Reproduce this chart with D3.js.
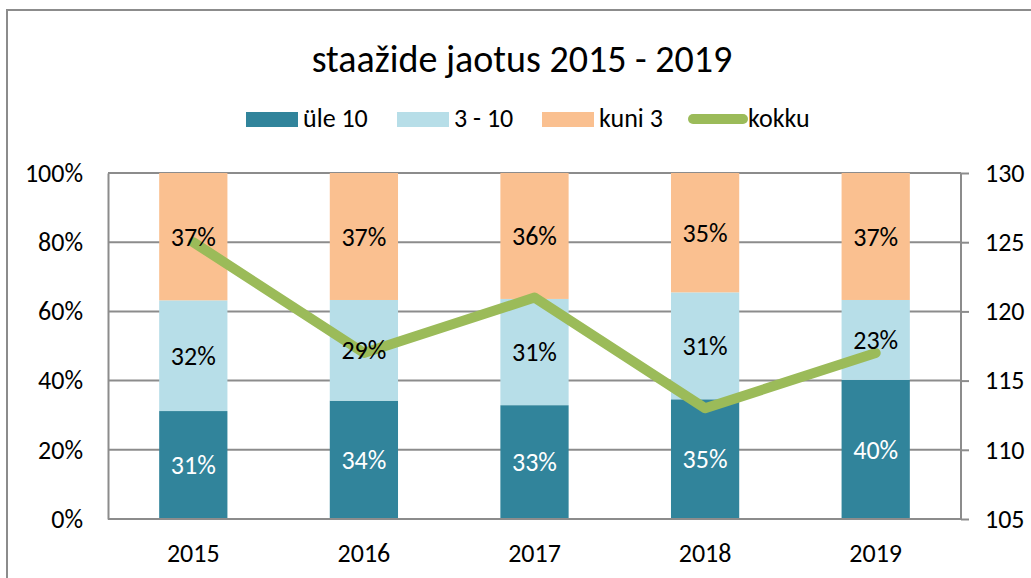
<!DOCTYPE html>
<html>
<head>
<meta charset="utf-8">
<script src="https://cdn.jsdelivr.net/npm/d3@7"></script>
<style>
  body { margin: 0; background: #fff; }
  svg text { font-family: Carlito, "Liberation Sans Narrow", Roboto, sans-serif; }
</style>
</head>
<body>
<div class="chart"></div>
<script>
const years = ['2015', '2016', '2017', '2018', '2019'];
const seriesNames = ['üle 10', '3 - 10', 'kuni 3', 'kokku'];
// shares in percent (labels show rounded values)
const yle10 = [31.2, 34.2, 32.9, 34.6, 40.2];
const kolm10 = [32.0, 29.1, 30.7, 30.9, 23.1];
const kuni3 = [36.8, 36.7, 36.4, 34.5, 36.7];
const kokku = [125, 117, 121, 113, 117];
const leftTicks = [0, 20, 40, 60, 80, 100];
const rightTicks = [105, 110, 115, 120, 125, 130];

const colors = ['#31849b', '#b7dee8', '#fac090'];
const lineColor = '#9bbb59';
const gridColor = '#8c8c8c';
const fontSize = '26px';

const width = 1031;
const height = 578;
const margin = { top: 173, right: 70, bottom: 59, left: 108 };
const graphWidth = width - margin.left - margin.right;
const graphHeight = height - margin.top - margin.bottom;

const svg = d3
  .select('.chart')
  .append('svg')
  .attr('width', width)
  .attr('height', height);

// outer chart frame, runs off the right and bottom edges
svg
  .append('rect')
  .attr('x', 7)
  .attr('y', 10)
  .attr('width', 1040)
  .attr('height', 600)
  .attr('fill', 'none')
  .attr('stroke', '#8c8c8c')
  .attr('stroke-width', 2);

svg
  .append('text')
  .attr('x', 522)
  .attr('y', 72)
  .attr('text-anchor', 'middle')
  .style('font-size', '38px')
  .style('fill', '#000')
  .text('staažide jaotus 2015 - 2019');

const graph = svg
  .append('g')
  .attr('transform', `translate(${margin.left}, ${margin.top})`);

const xScale = d3.scaleBand().domain(years).range([0, graphWidth]).paddingInner(0.6).paddingOuter(0.3);
const yScale = d3.scaleLinear().domain([0, 100]).range([graphHeight, 0]);
const y2Scale = d3.scaleLinear().domain([105, 130]).range([graphHeight, 0]);

// gridlines
graph
  .append('g')
  .selectAll('line')
  .data(leftTicks)
  .enter()
  .append('line')
  .attr('x1', 0)
  .attr('x2', graphWidth)
  .attr('y1', (d) => yScale(d))
  .attr('y2', (d) => yScale(d))
  .attr('stroke', gridColor)
  .attr('stroke-width', 2);

const rows = years.map((y, i) => ({ year: y, a: yle10[i], b: kolm10[i], c: kuni3[i] }));
const stacked = d3.stack().keys(['a', 'b', 'c'])(rows);

stacked.forEach((layer, li) => {
  graph
    .append('g')
    .selectAll('rect')
    .data(layer)
    .enter()
    .append('rect')
    .attr('x', (d) => xScale(d.data.year))
    .attr('width', xScale.bandwidth())
    .attr('y', (d) => yScale(d[1]))
    .attr('height', (d) => yScale(d[0]) - yScale(d[1]))
    .attr('fill', colors[li]);
});

const leftAxis = d3.axisLeft(yScale).tickValues(leftTicks).tickSize(0).tickPadding(25).tickFormat((d) => `${d}%`);
const rightAxis = d3.axisRight(y2Scale).tickValues(rightTicks).tickSize(8).tickPadding(16);
const bottomAxis = d3.axisBottom(xScale).tickSize(0).tickPadding(25);

const styleAxis = (g) => {
  g.select('.domain').attr('stroke', gridColor).attr('stroke-width', 2);
  g.selectAll('.tick line').attr('stroke', gridColor).attr('stroke-width', 2);
  g.selectAll('.tick text')
    .style('font-size', fontSize)
    .style('fill', '#000')
    .style('font-family', 'Carlito, "Liberation Sans Narrow", Roboto, sans-serif');
};

graph.append('g').call(leftAxis).call(styleAxis);
graph.append('g').attr('transform', `translate(${graphWidth}, 0)`).call(rightAxis).call(styleAxis)
  .select('.domain').attr('d', `M0,0V${graphHeight}`);
graph.append('g').attr('transform', `translate(0, ${graphHeight})`).call(bottomAxis).call(styleAxis)
  .select('.domain').attr('d', `M0,0H${graphWidth}`);

// total line on the right axis
const line = d3
  .line()
  .x((d, i) => xScale(years[i]) + xScale.bandwidth() / 2)
  .y((d) => y2Scale(d));

graph
  .append('path')
  .datum(kokku)
  .attr('d', line)
  .attr('fill', 'none')
  .attr('stroke', lineColor)
  .attr('stroke-width', 10)
  .attr('stroke-linejoin', 'round')
  .attr('stroke-linecap', 'round');

// data labels
stacked.forEach((layer, li) => {
  graph
    .append('g')
    .selectAll('text')
    .data(layer)
    .enter()
    .append('text')
    .attr('x', (d) => xScale(d.data.year) + xScale.bandwidth() / 2)
    .attr('y', (d) => (yScale(d[0]) + yScale(d[1])) / 2)
    .attr('dy', '0.35em')
    .attr('text-anchor', 'middle')
    .style('font-size', fontSize)
    .style('fill', li === 0 ? '#fff' : '#000')
    .text((d) => `${Math.round(d[1] - d[0])}%`);
});

// legend
const legendItems = [
  { name: seriesNames[0], x: 246, color: colors[0], type: 'rect' },
  { name: seriesNames[1], x: 397, color: colors[1], type: 'rect' },
  { name: seriesNames[2], x: 542, color: colors[2], type: 'rect' },
  { name: seriesNames[3], x: 688, color: lineColor, type: 'line' },
];
const legend = svg.append('g');
legendItems.forEach((it) => {
  if (it.type === 'rect') {
    legend.append('rect').attr('x', it.x).attr('y', 112).attr('width', 52).attr('height', 15).attr('fill', it.color);
  } else {
    legend.append('line').attr('x1', it.x + 5).attr('x2', it.x + 55).attr('y1', 119).attr('y2', 119)
      .attr('stroke', it.color).attr('stroke-width', 10).attr('stroke-linecap', 'round');
  }
  legend
    .append('text')
    .attr('x', it.type === 'rect' ? it.x + 57 : it.x + 60)
    .attr('y', 127)
    .style('font-size', fontSize)
    .style('fill', '#000')
    .text(it.name);
});
</script>
</body>
</html>
